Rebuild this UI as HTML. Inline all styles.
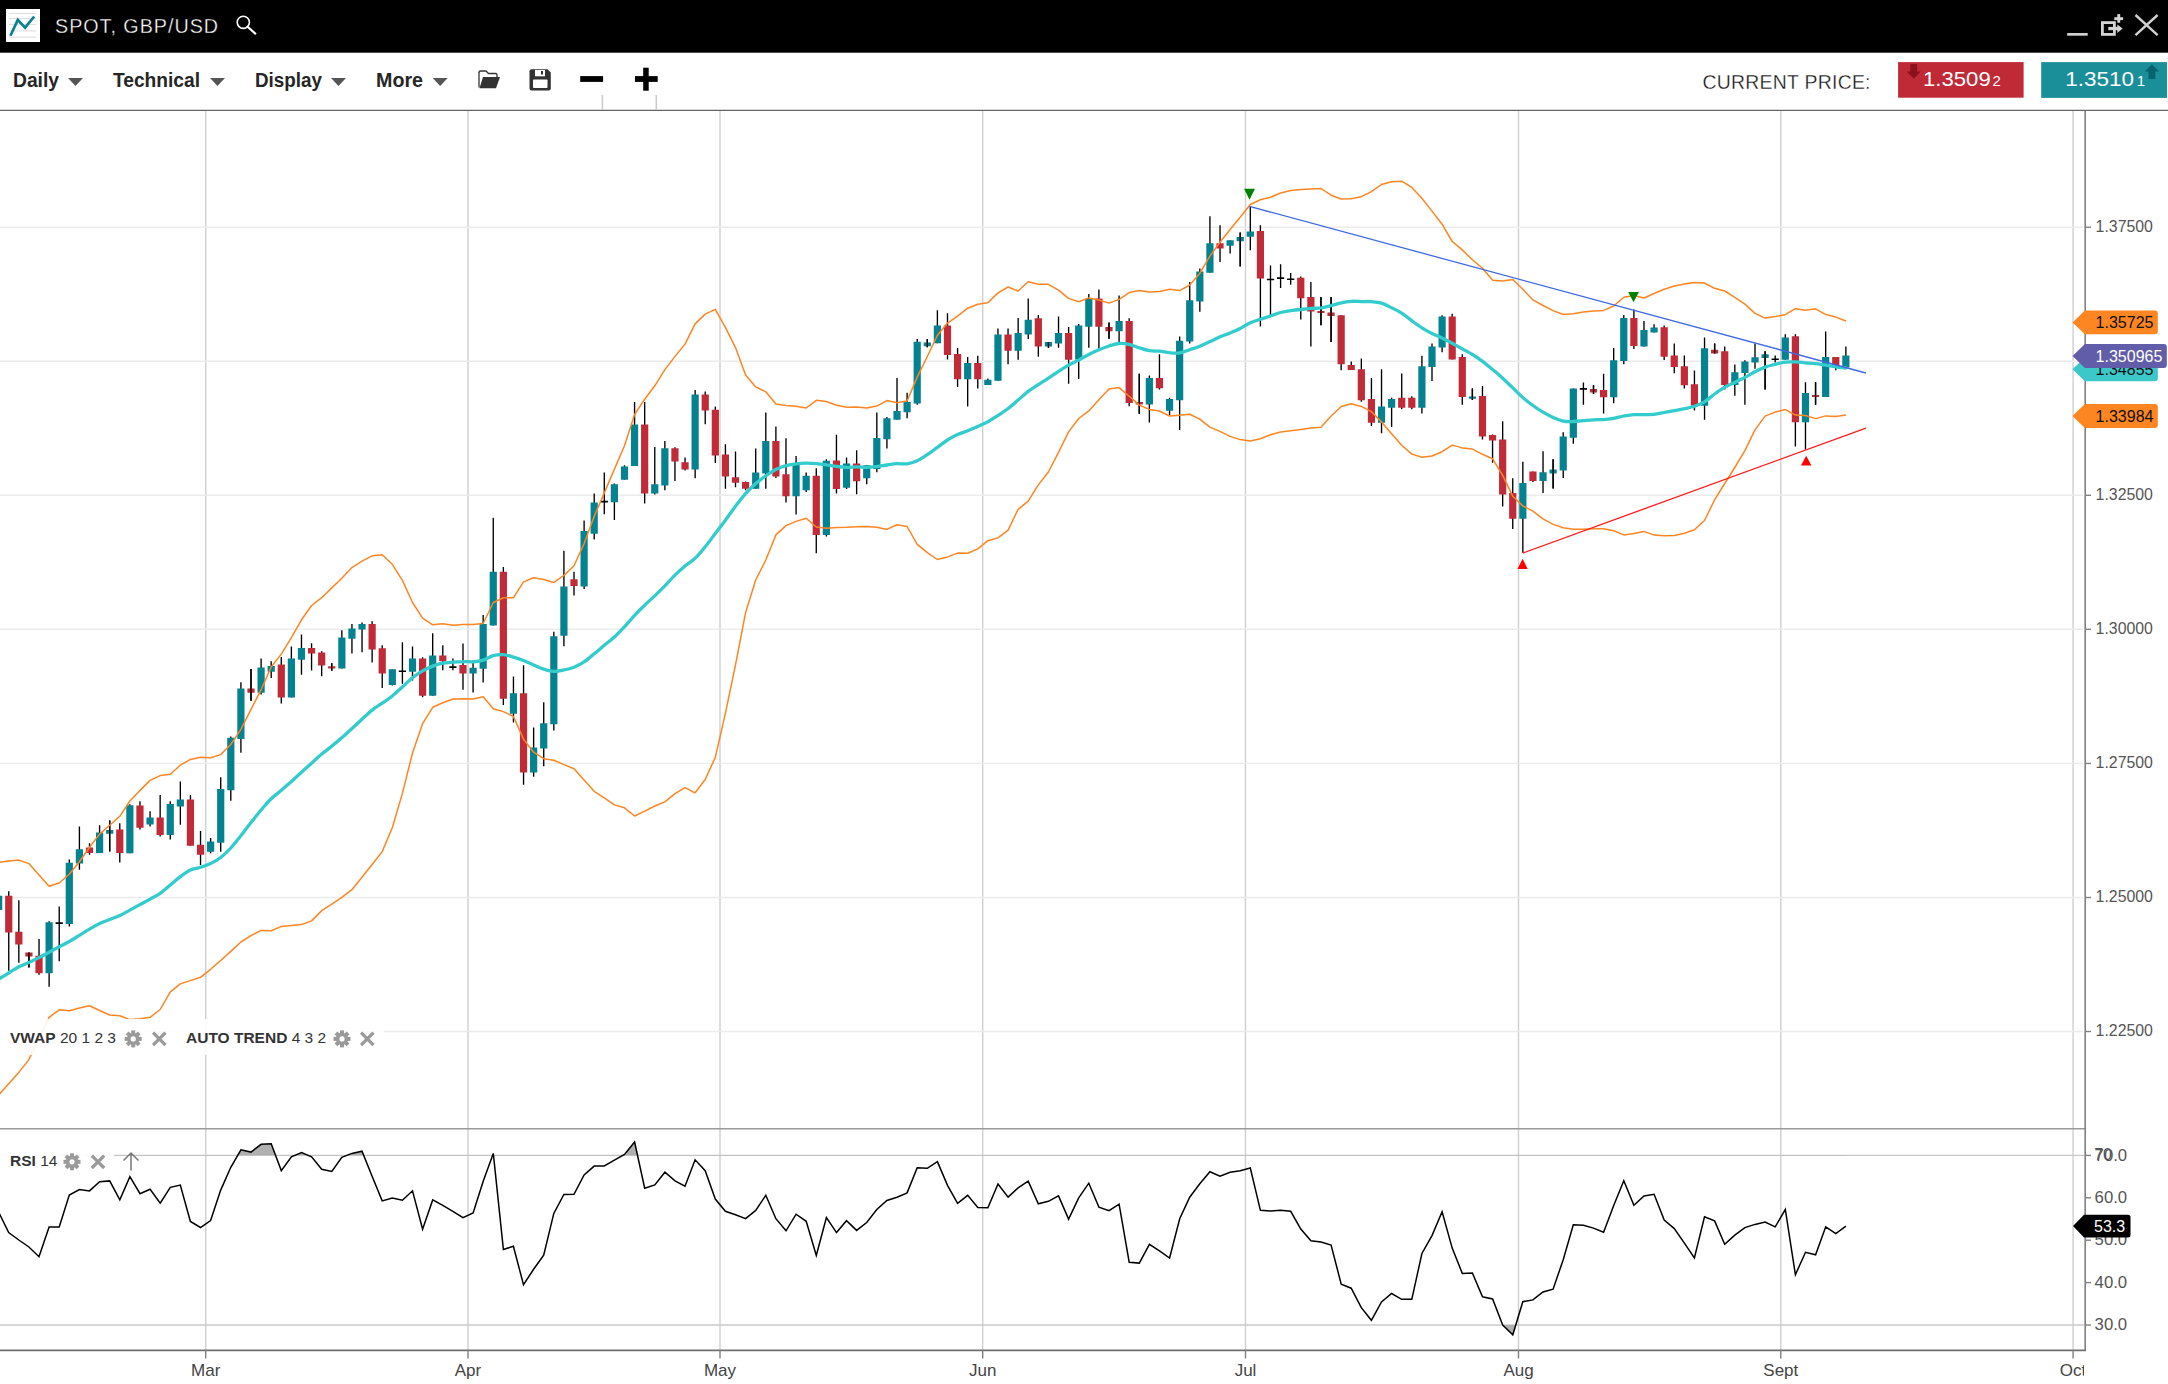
<!DOCTYPE html>
<html><head><meta charset="utf-8"><title>SPOT, GBP/USD</title>
<style>
html,body{margin:0;padding:0;background:#fff;}
body{width:2168px;height:1384px;overflow:hidden;position:relative;font-family:"Liberation Sans",Arial,sans-serif;}
svg{position:absolute;left:0;top:0;display:block}
text{font-family:"Liberation Sans",Arial,sans-serif}
</style></head><body>
<svg width="2168" height="1384" viewBox="0 0 2168 1384">
<rect x="0" y="0" width="2168" height="1384" fill="#fff"/>

<rect x="0" y="0" width="2168" height="52.7" fill="#000"/>
<rect x="6" y="9" width="34" height="33" fill="#fff"/>
<line x1="9" y1="13.4" x2="36" y2="13.4" stroke="#dcdcdc" stroke-width="1"/>
<line x1="9" y1="18.6" x2="36" y2="18.6" stroke="#dcdcdc" stroke-width="1"/>
<line x1="9" y1="24.4" x2="36" y2="24.4" stroke="#dcdcdc" stroke-width="1"/>
<line x1="9" y1="30.9" x2="36" y2="30.9" stroke="#dcdcdc" stroke-width="1"/>
<line x1="9" y1="37.1" x2="36" y2="37.1" stroke="#dcdcdc" stroke-width="1"/>
<polyline points="10.4,35.8 17.8,19.9 25.1,27.7 34.2,16.5" fill="none" stroke="#0a8290" stroke-width="2.7" stroke-linejoin="miter"/>
<text x="55" y="33" font-size="20" fill="#fff" stroke="#000" stroke-width="0.35" textLength="164" lengthAdjust="spacingAndGlyphs" letter-spacing="1">SPOT, GBP/USD</text>
<circle cx="243.3" cy="22.3" r="6.1" fill="none" stroke="#fff" stroke-width="1.6"/><line x1="247.6" y1="26.8" x2="255.3" y2="33.6" stroke="#fff" stroke-width="2.1" stroke-linecap="round"/>
<rect x="2067.2" y="33" width="20.5" height="2.7" fill="#d0d0d0"/>
<rect x="2102.4" y="22.6" width="12" height="11.8" fill="none" stroke="#d4d4d4" stroke-width="2.8"/>
<rect x="2108.3" y="26.9" width="10" height="3.3" fill="#d4d4d4"/><polygon points="2117.3,24.4 2122.7,28.6 2117.3,33" fill="#d4d4d4"/>
<rect x="2117.3" y="14.1" width="2.9" height="8.6" fill="#d4d4d4"/><rect x="2114.3" y="17.2" width="8.8" height="2.9" fill="#d4d4d4"/>
<path d="M2135.5,15 L2157.6,35.2 M2157.6,15 L2135.5,35.2" stroke="#d0d0d0" stroke-width="2.4"/>
<line x1="0" y1="110.4" x2="2168" y2="110.4" stroke="#666" stroke-width="1.2"/>
<text x="13" y="87" font-size="19.6" font-weight="bold" fill="#262626" textLength="46" lengthAdjust="spacingAndGlyphs">Daily</text>
<polygon points="68,78 83,78 75.5,86" fill="#555"/>
<text x="113" y="87" font-size="19.6" font-weight="bold" fill="#262626" textLength="87" lengthAdjust="spacingAndGlyphs">Technical</text>
<polygon points="210,78 225,78 217.5,86" fill="#555"/>
<text x="255" y="87" font-size="19.6" font-weight="bold" fill="#262626" textLength="67" lengthAdjust="spacingAndGlyphs">Display</text>
<polygon points="331,78 346,78 338.5,86" fill="#555"/>
<text x="376" y="87" font-size="19.6" font-weight="bold" fill="#262626" textLength="47" lengthAdjust="spacingAndGlyphs">More</text>
<polygon points="432.7,78 447.7,78 440.2,86" fill="#555"/>
<path d="M479,72.5 Q479,71 480.5,71 L486,71 L488.5,73.5 L495.5,73.5 Q497,73.5 497,75 L497,77" fill="none" stroke="#333" stroke-width="1.3"/><path d="M479,72 L479,87.5" stroke="#333" stroke-width="1.3"/><polygon points="483,77 500,77 496,88.3 479.5,88.3" fill="#333"/>
<path d="M531.5,69.2 L547.5,69.2 L550.8,72.5 L550.8,88.5 Q550.8,90.5 548.8,90.5 L531.5,90.5 Q529.5,90.5 529.5,88.5 L529.5,71.2 Q529.5,69.2 531.5,69.2 Z" fill="#333"/><rect x="535" y="70" width="10" height="6.3" fill="#fff"/><rect x="541" y="71" width="2" height="3.5" fill="#333"/><rect x="533" y="79.4" width="14.5" height="8.6" fill="#fff" rx="0.8"/>
<rect x="580.2" y="76.1" width="22.9" height="5.8" fill="#000"/>
<rect x="635" y="76.1" width="22.7" height="5.8" fill="#000"/><rect x="643.2" y="67.7" width="5.5" height="23" fill="#000"/>
<line x1="602.4" y1="95" x2="602.4" y2="110" stroke="#ccc" stroke-width="1.6"/><line x1="656.3" y1="95" x2="656.3" y2="110" stroke="#ccc" stroke-width="1.6"/>
<text x="1702.5" y="88.9" font-size="19.4" fill="#111" stroke="#fff" stroke-width="0.3" textLength="168" lengthAdjust="spacing">CURRENT PRICE:</text>
<rect x="1898.1" y="62.1" width="125.5" height="35.6" fill="#c02936"/>
<polygon points="1910.3,64 1917.1,64 1917.1,71.5 1920.7,71.5 1913.7,78.7 1906.6,71.5 1910.3,71.5" fill="#8c111c"/>
<text x="1923" y="86" font-size="20.8" fill="#fff" textLength="67.7" lengthAdjust="spacingAndGlyphs">1.3509</text><text x="1992.4" y="86" font-size="15" fill="#fff">2</text>
<rect x="2041.2" y="62.1" width="125.8" height="35.8" fill="#1a8e99"/>
<text x="2065.3" y="86.1" font-size="20.8" fill="#fff" textLength="68.7" lengthAdjust="spacingAndGlyphs">1.3510</text><text x="2136.8" y="86.1" font-size="15" fill="#fff">1</text>
<polygon points="2148.5,79 2155.3,79 2155.3,71.5 2159,71.5 2151.9,64.3 2144.8,71.5 2148.5,71.5" fill="#08636d"/>
<line x1="205.7" y1="111" x2="205.7" y2="1350" stroke="#cfcfcf" stroke-width="1.4"/>
<line x1="468.0" y1="111" x2="468.0" y2="1350" stroke="#cfcfcf" stroke-width="1.4"/>
<line x1="720.0" y1="111" x2="720.0" y2="1350" stroke="#cfcfcf" stroke-width="1.4"/>
<line x1="982.7" y1="111" x2="982.7" y2="1350" stroke="#cfcfcf" stroke-width="1.4"/>
<line x1="1245.5" y1="111" x2="1245.5" y2="1350" stroke="#cfcfcf" stroke-width="1.4"/>
<line x1="1518.5" y1="111" x2="1518.5" y2="1350" stroke="#cfcfcf" stroke-width="1.4"/>
<line x1="1780.8" y1="111" x2="1780.8" y2="1350" stroke="#cfcfcf" stroke-width="1.4"/>
<line x1="2073.1" y1="111" x2="2073.1" y2="1350" stroke="#cfcfcf" stroke-width="1.4"/>
<line x1="0" y1="227.2" x2="2083" y2="227.2" stroke="#ececec" stroke-width="1.4"/>
<line x1="0" y1="361.2" x2="2083" y2="361.2" stroke="#ececec" stroke-width="1.4"/>
<line x1="0" y1="495.3" x2="2083" y2="495.3" stroke="#ececec" stroke-width="1.4"/>
<line x1="0" y1="629.3" x2="2083" y2="629.3" stroke="#ececec" stroke-width="1.4"/>
<line x1="0" y1="763.4" x2="2083" y2="763.4" stroke="#ececec" stroke-width="1.4"/>
<line x1="0" y1="897.5" x2="2083" y2="897.5" stroke="#ececec" stroke-width="1.4"/>
<line x1="0" y1="1031.5" x2="2083" y2="1031.5" stroke="#ececec" stroke-width="1.4"/>
<line x1="0" y1="1155.4" x2="2085" y2="1155.4" stroke="#c8c8c8" stroke-width="1.3"/>
<line x1="0" y1="1325" x2="2085" y2="1325" stroke="#c8c8c8" stroke-width="1.3"/>
<line x1="0" y1="1128.8" x2="2085" y2="1128.8" stroke="#999" stroke-width="1.6"/>
<defs><clipPath id="cm"><rect x="0" y="111" width="2084" height="1017"/></clipPath><clipPath id="cr"><rect x="0" y="1129" width="2084" height="220"/></clipPath><clipPath id="ob"><rect x="0" y="1129" width="2084" height="26.4"/></clipPath><clipPath id="os"><rect x="0" y="1325" width="2084" height="25"/></clipPath><clipPath id="ax"><rect x="0" y="1350" width="2084" height="40"/></clipPath></defs>
<g clip-path="url(#cm)">
<path d="M-1.35,890.0V915.0 M8.75,891.3V970.8 M18.84,900.3V962.8 M28.93,952.5V967.6 M39.03,939.0V974.8 M49.12,921.2V986.7 M59.22,906.4V961.2 M69.31,859.5V926.6 M79.41,826.6V869.8 M89.50,843.3V854.7 M99.59,825.3V853.1 M109.69,820.5V851.5 M119.78,823.2V862.4 M129.87,804.2V853.3 M139.97,801.2V829.5 M150.06,811.3V826.5 M160.16,795.1V836.6 M170.25,801.2V839.6 M180.34,781.5V824.8 M190.44,795.1V845.7 M200.53,831.0V864.9 M210.63,838.1V853.3 M220.72,777.2V851.8 M230.81,736.4V800.7 M240.91,682.2V752.7 M251.00,668.9V700.7 M261.10,658.4V694.5 M271.19,661.3V677.9 M281.29,656.9V703.6 M291.38,646.4V697.4 M301.47,634.6V674.7 M311.57,643.2V670.4 M321.66,651.2V676.2 M331.75,663.2V670.7 M341.85,630.2V668.5 M351.94,624.1V653.4 M362.04,622.6V652.3 M372.13,621.2V662.6 M382.23,645.3V688.0 M392.32,669.2V685.5 M402.41,642.2V683.7 M412.51,646.5V680.4 M422.60,657.3V697.3 M432.69,633.3V695.8 M442.79,645.3V670.3 M452.88,658.6V670.3 M462.98,643.4V689.8 M473.07,660.4V692.5 M483.16,614.9V682.4 M493.26,517.8V625.4 M503.35,567.1V705.0 M513.45,676.5V722.6 M523.54,665.2V784.7 M533.63,727.5V776.7 M543.73,702.3V766.2 M553.82,631.7V730.6 M563.92,550.7V646.3 M574.01,571.7V595.4 M584.11,520.5V589.1 M594.20,493.4V539.6 M604.29,472.6V514.2 M614.39,483.4V520.1 M624.48,465.2V479.8 M634.57,402.1V466.1 M644.67,402.1V503.5 M654.76,447.0V494.4 M664.86,441.1V490.2 M674.95,447.3V481.1 M685.04,457.4V470.4 M695.14,390.1V478.2 M705.23,391.4V424.2 M715.33,406.4V463.0 M725.42,444.2V488.8 M735.51,451.5V487.3 M745.61,481.5V490.2 M755.70,448.6V488.8 M765.80,412.5V488.8 M775.89,426.4V478.1 M785.99,438.2V502.4 M796.08,456.1V514.5 M806.17,472.6V492.0 M816.27,468.2V553.2 M826.36,459.2V536.5 M836.45,434.7V493.4 M846.55,457.5V488.9 M856.64,450.2V494.2 M866.74,465.3V484.3 M876.83,412.6V472.2 M886.92,417.1V448.4 M897.02,378.1V419.8 M907.11,392.8V418.3 M917.21,339.1V404.7 M927.30,339.1V347.3 M937.39,310.3V343.2 M947.49,313.3V359.5 M957.58,348.1V386.9 M967.68,357.0V406.4 M977.77,355.7V388.4 M987.87,378.4V385.1 M997.96,328.5V380.8 M1008.05,328.5V364.3 M1018.15,317.9V359.8 M1028.24,298.4V338.9 M1038.34,315.0V356.7 M1048.43,342.1V347.8 M1058.52,316.4V347.8 M1068.62,326.9V383.8 M1078.71,324.1V379.1 M1088.81,294.0V347.7 M1098.90,289.4V349.3 M1108.99,322.6V338.8 M1119.09,295.6V341.9 M1129.18,318.2V406.2 M1139.27,373.8V413.8 M1149.37,375.4V422.6 M1159.46,354.2V389.4 M1169.56,397.8V415.0 M1179.65,336.4V430.0 M1189.74,282.0V343.4 M1199.84,268.5V311.7 M1209.93,216.2V272.8 M1220.03,225.2V262.1 M1230.12,240.2V253.5 M1240.21,232.6V266.6 M1250.31,206.4V250.3 M1260.40,225.2V326.5 M1270.50,265.4V314.9 M1280.59,264.2V287.9 M1290.68,273.1V284.7 M1300.78,276.5V319.5 M1310.87,282.1V346.5 M1320.97,297.1V325.3 M1331.06,297.1V341.9 M1341.15,315.3V370.2 M1351.25,361.5V370.0 M1361.34,358.4V401.7 M1371.44,378.1V426.0 M1381.53,369.3V433.2 M1391.62,397.7V427.1 M1401.72,373.5V409.3 M1411.81,396.2V409.3 M1421.91,355.8V413.6 M1432.00,343.5V380.9 M1442.10,315.2V352.2 M1452.19,313.7V359.6 M1462.28,354.2V404.7 M1472.38,388.6V400.1 M1482.47,385.9V439.5 M1492.56,434.5V462.8 M1502.66,421.3V506.6 M1512.75,478.3V528.9 M1522.85,461.7V552.7 M1532.94,471.5V482.0 M1543.03,451.2V493.1 M1553.13,459.3V488.5 M1563.22,432.3V477.9 M1573.32,388.4V443.7 M1583.41,382.5V404.8 M1593.50,385.2V394.1 M1603.60,373.8V413.5 M1613.69,348.0V403.2 M1623.79,315.0V364.2 M1633.88,309.4V349.1 M1643.97,321.0V346.4 M1654.07,324.2V332.4 M1664.16,325.6V359.9 M1674.26,343.4V373.3 M1684.35,355.5V388.5 M1694.44,370.5V410.6 M1704.54,337.6V419.7 M1714.63,343.4V353.5 M1724.73,346.4V389.6 M1734.82,364.5V395.7 M1744.91,360.3V404.7 M1755.01,343.4V368.8 M1765.10,351.2V389.6 M1775.20,355.5V362.5 M1785.29,334.3V359.7 M1795.38,334.3V446.6 M1805.48,382.2V449.6 M1815.57,382.2V404.7 M1825.67,331.4V396.9 M1835.76,357.1V370.3 M1845.86,346.4V367.5" stroke="#000" stroke-width="1.35" fill="none"/>
<path d="M55.62,923.1H62.82 M398.81,671.3H406.01 M449.28,667.1H456.48 M600.69,501.6H607.89 M1266.90,279.5H1274.10 M1276.99,278.1H1284.19 M1287.09,279.3H1294.28 M1579.81,388.9H1587.01 M1771.60,359.3H1778.80" stroke="#000" stroke-width="1.6" fill="none"/>
<path d="M-4.95,895.7h7.2v14.3h-7.2z M45.52,922.3h7.2v50.9h-7.2z M65.71,862.7h7.2v61.2h-7.2z M75.81,849.2h7.2v14.3h-7.2z M95.99,832.5h7.2v20.6h-7.2z M106.09,830.1h7.2v3.6h-7.2z M126.27,805.3h7.2v48.0h-7.2z M146.46,817.4h7.2v7.1h-7.2z M166.65,803.9h7.2v31.2h-7.2z M176.74,799.5h7.2v7.1h-7.2z M207.03,841.5h7.2v10.3h-7.2z M217.12,789.1h7.2v53.6h-7.2z M227.21,737.8h7.2v52.5h-7.2z M237.31,688.4h7.2v50.6h-7.2z M257.50,667.5h7.2v25.3h-7.2z M267.59,666.0h7.2v5.8h-7.2z M287.78,658.4h7.2v39.0h-7.2z M297.87,648.0h7.2v11.8h-7.2z M338.25,637.4h7.2v31.1h-7.2z M348.34,628.6h7.2v10.2h-7.2z M358.44,624.1h7.2v5.4h-7.2z M388.72,669.2h7.2v15.9h-7.2z M408.91,658.4h7.2v13.4h-7.2z M429.09,655.4h7.2v40.4h-7.2z M469.47,667.7h7.2v5.9h-7.2z M479.56,624.1h7.2v44.7h-7.2z M489.66,571.7h7.2v53.7h-7.2z M509.85,693.3h7.2v20.5h-7.2z M530.03,747.4h7.2v25.1h-7.2z M540.13,723.3h7.2v25.1h-7.2z M550.22,636.3h7.2v88.0h-7.2z M560.32,586.4h7.2v49.4h-7.2z M580.50,531.0h7.2v55.4h-7.2z M590.60,502.5h7.2v31.2h-7.2z M610.79,484.3h7.2v17.9h-7.2z M620.88,466.5h7.2v13.3h-7.2z M630.97,424.5h7.2v41.6h-7.2z M651.16,484.3h7.2v9.1h-7.2z M661.26,448.3h7.2v37.3h-7.2z M691.54,394.6h7.2v74.8h-7.2z M752.10,472.6h7.2v16.2h-7.2z M762.20,441.1h7.2v32.3h-7.2z M792.48,464.8h7.2v31.4h-7.2z M802.57,475.8h7.2v14.4h-7.2z M822.76,460.7h7.2v74.4h-7.2z M842.95,463.5h7.2v24.3h-7.2z M863.14,465.3h7.2v12.9h-7.2z M873.23,438.0h7.2v31.1h-7.2z M883.32,418.3h7.2v21.0h-7.2z M893.42,411.0h7.2v8.8h-7.2z M903.51,401.9h7.2v10.4h-7.2z M913.61,341.7h7.2v61.8h-7.2z M923.70,342.5h7.2v3.8h-7.2z M933.79,325.5h7.2v17.7h-7.2z M964.08,363.0h7.2v16.3h-7.2z M984.26,379.7h7.2v5.4h-7.2z M994.36,334.5h7.2v46.3h-7.2z M1014.55,332.9h7.2v17.9h-7.2z M1024.64,319.7h7.2v14.8h-7.2z M1044.83,342.1h7.2v4.3h-7.2z M1054.92,333.1h7.2v10.4h-7.2z M1075.11,325.5h7.2v34.0h-7.2z M1085.21,298.5h7.2v28.3h-7.2z M1115.49,321.0h7.2v10.2h-7.2z M1145.77,378.1h7.2v26.5h-7.2z M1165.96,399.0h7.2v11.7h-7.2z M1176.05,340.7h7.2v59.6h-7.2z M1186.14,300.2h7.2v41.4h-7.2z M1196.24,271.5h7.2v29.9h-7.2z M1206.33,243.3h7.2v29.5h-7.2z M1226.52,240.2h7.2v5.5h-7.2z M1236.62,237.1h7.2v4.1h-7.2z M1246.71,231.4h7.2v5.4h-7.2z M1377.93,406.6h7.2v16.2h-7.2z M1388.03,399.1h7.2v8.7h-7.2z M1418.31,366.2h7.2v41.6h-7.2z M1428.40,346.5h7.2v20.6h-7.2z M1438.50,316.6h7.2v30.9h-7.2z M1468.78,396.6h7.2v2.1h-7.2z M1519.25,483.0h7.2v35.8h-7.2z M1539.43,472.3h7.2v8.7h-7.2z M1549.53,469.4h7.2v4.2h-7.2z M1559.62,436.5h7.2v33.9h-7.2z M1569.72,388.4h7.2v49.3h-7.2z M1610.09,360.3h7.2v37.0h-7.2z M1620.19,318.1h7.2v43.0h-7.2z M1640.38,330.1h7.2v16.3h-7.2z M1650.47,327.4h7.2v5.0h-7.2z M1700.94,348.2h7.2v57.6h-7.2z M1731.22,372.3h7.2v12.7h-7.2z M1741.32,361.6h7.2v11.3h-7.2z M1751.41,357.3h7.2v5.2h-7.2z M1761.50,354.2h7.2v3.7h-7.2z M1781.69,337.5h7.2v22.2h-7.2z M1801.88,393.0h7.2v29.3h-7.2z M1822.07,357.1h7.2v39.8h-7.2z M1842.26,355.6h7.2v11.9h-7.2z" fill="#04828f"/>
<path d="M5.15,895.7h7.2v36.9h-7.2z M15.24,931.8h7.2v12.7h-7.2z M25.33,952.5h7.2v4.0h-7.2z M35.43,955.7h7.2v17.5h-7.2z M85.90,847.6h7.2v5.5h-7.2z M116.18,829.6h7.2v23.5h-7.2z M136.37,805.6h7.2v22.2h-7.2z M156.56,817.4h7.2v17.7h-7.2z M186.84,799.5h7.2v46.2h-7.2z M196.93,844.7h7.2v10.1h-7.2z M247.40,688.4h7.2v4.4h-7.2z M277.69,664.6h7.2v32.8h-7.2z M307.97,648.0h7.2v5.6h-7.2z M318.06,652.6h7.2v13.0h-7.2z M328.15,666.3h7.2v2.2h-7.2z M368.53,624.1h7.2v25.3h-7.2z M378.62,648.2h7.2v25.2h-7.2z M419.00,658.6h7.2v37.2h-7.2z M439.19,655.4h7.2v5.8h-7.2z M459.38,665.1h7.2v8.3h-7.2z M499.75,571.7h7.2v127.0h-7.2z M519.94,693.3h7.2v79.2h-7.2z M570.41,579.2h7.2v6.8h-7.2z M641.07,424.5h7.2v68.9h-7.2z M671.35,448.3h7.2v13.3h-7.2z M681.44,462.2h7.2v7.2h-7.2z M701.63,394.6h7.2v16.0h-7.2z M711.73,409.8h7.2v45.7h-7.2z M721.82,454.6h7.2v22.0h-7.2z M731.91,477.3h7.2v5.4h-7.2z M742.01,481.9h7.2v6.9h-7.2z M772.29,441.1h7.2v35.5h-7.2z M782.38,474.3h7.2v21.9h-7.2z M812.67,475.8h7.2v59.3h-7.2z M832.85,460.5h7.2v28.4h-7.2z M853.04,463.5h7.2v17.8h-7.2z M943.89,325.5h7.2v29.4h-7.2z M953.98,354.0h7.2v25.3h-7.2z M974.17,363.0h7.2v16.3h-7.2z M1004.45,334.5h7.2v16.3h-7.2z M1034.74,318.2h7.2v28.2h-7.2z M1065.02,333.1h7.2v26.7h-7.2z M1095.30,298.5h7.2v28.3h-7.2z M1105.39,327.1h7.2v4.1h-7.2z M1125.58,321.0h7.2v82.0h-7.2z M1135.67,402.1h7.2v2.5h-7.2z M1155.86,378.1h7.2v10.1h-7.2z M1216.43,243.3h7.2v5.3h-7.2z M1256.80,231.0h7.2v47.5h-7.2z M1297.18,277.7h7.2v20.5h-7.2z M1307.27,297.1h7.2v14.4h-7.2z M1317.37,311.0h7.2v2.0h-7.2z M1327.46,312.4h7.2v3.7h-7.2z M1337.56,315.3h7.2v48.9h-7.2z M1347.65,365.0h7.2v5.0h-7.2z M1357.74,369.3h7.2v31.0h-7.2z M1367.84,399.1h7.2v23.7h-7.2z M1398.12,397.7h7.2v10.1h-7.2z M1408.21,397.7h7.2v10.1h-7.2z M1448.59,316.6h7.2v43.0h-7.2z M1458.68,357.0h7.2v40.0h-7.2z M1478.87,396.0h7.2v40.5h-7.2z M1488.96,435.1h7.2v5.4h-7.2z M1499.06,439.5h7.2v55.0h-7.2z M1509.15,493.1h7.2v25.7h-7.2z M1529.34,471.5h7.2v9.5h-7.2z M1589.90,388.9h7.2v3.6h-7.2z M1600.00,390.0h7.2v7.3h-7.2z M1630.28,318.1h7.2v27.9h-7.2z M1660.56,327.2h7.2v29.6h-7.2z M1670.66,355.5h7.2v11.6h-7.2z M1680.75,366.2h7.2v19.1h-7.2z M1690.85,384.2h7.2v21.2h-7.2z M1711.03,349.7h7.2v3.8h-7.2z M1721.13,351.2h7.2v33.8h-7.2z M1791.79,336.3h7.2v86.0h-7.2z M1811.97,394.9h7.2v2.0h-7.2z M1832.16,357.1h7.2v9.3h-7.2z" fill="#c12b38"/>
<path d="M28.93,952.5V967.6 M109.69,820.5V851.5 M251.00,668.9V700.7 M331.75,663.2V670.7 M927.30,339.1V347.3 M1048.43,342.1V347.8 M1108.99,322.6V338.8 M1139.27,373.8V413.8 M1240.21,232.6V266.6 M1320.97,297.1V325.3 M1331.06,297.1V341.9 M1472.38,388.6V400.1 M1553.13,459.3V488.5 M1593.50,385.2V394.1 M1714.63,343.4V353.5 M1765.10,351.2V389.6 M1815.57,382.2V404.7" stroke="#000" stroke-width="1.35" fill="none"/>
<polyline points="-1.3,862.5 8.7,861.0 18.8,860.1 28.9,863.6 39.0,874.9 49.1,886.3 59.2,883.0 69.3,874.2 79.4,861.7 89.5,847.2 99.6,834.1 109.7,825.2 119.8,816.3 129.9,801.0 140.0,790.4 150.1,780.4 160.2,775.6 170.3,774.3 180.3,765.2 190.4,759.4 200.5,757.3 210.6,757.7 220.7,754.6 230.8,744.5 240.9,729.4 251.0,709.4 261.1,689.7 271.2,666.9 281.3,654.1 291.4,637.6 301.5,619.8 311.6,605.5 321.7,597.7 331.8,587.9 341.8,578.2 351.9,567.6 362.0,561.2 372.1,555.8 382.2,554.8 392.3,564.3 402.4,580.4 412.5,602.5 422.6,618.1 432.7,624.8 442.8,623.7 452.9,625.2 463.0,624.4 473.1,624.5 483.2,623.5 493.3,602.5 503.4,597.8 513.4,597.8 523.5,581.9 533.6,577.7 543.7,579.5 553.8,582.5 563.9,575.4 574.0,565.7 584.1,543.6 594.2,516.4 604.3,492.9 614.4,469.1 624.5,445.7 634.6,414.5 644.7,399.2 654.8,385.8 664.9,369.6 675.0,356.4 685.0,344.1 695.1,323.9 705.2,314.1 715.3,309.4 725.4,327.3 735.5,347.6 745.6,374.9 755.7,386.9 765.8,391.8 775.9,404.1 786.0,405.6 796.1,406.3 806.2,408.0 816.3,400.3 826.4,401.5 836.5,405.3 846.5,407.3 856.6,407.1 866.7,408.1 876.8,406.1 886.9,400.6 897.0,402.7 907.1,401.0 917.2,377.1 927.3,356.5 937.4,335.2 947.5,323.1 957.6,316.1 967.7,308.2 977.8,304.2 987.9,302.8 998.0,292.9 1008.1,287.0 1018.1,291.0 1028.2,281.7 1038.3,284.3 1048.4,284.3 1058.5,290.2 1068.6,298.4 1078.7,301.7 1088.8,297.9 1098.9,300.0 1109.0,303.1 1119.1,299.4 1129.2,292.6 1139.3,290.6 1149.4,292.0 1159.5,291.5 1169.6,289.3 1179.7,290.6 1189.7,285.0 1199.8,273.4 1209.9,256.1 1220.0,242.3 1230.1,229.5 1240.2,217.3 1250.3,204.5 1260.4,199.8 1270.5,197.3 1280.6,193.0 1290.7,190.4 1300.8,189.5 1310.9,188.9 1321.0,188.5 1331.1,195.2 1341.2,199.0 1351.2,198.8 1361.3,196.7 1371.4,191.6 1381.5,184.5 1391.6,181.7 1401.7,181.2 1411.8,187.4 1421.9,198.2 1432.0,211.1 1442.1,224.2 1452.2,241.5 1462.3,249.9 1472.4,259.8 1482.5,268.3 1492.6,280.3 1502.7,281.0 1512.8,279.5 1522.8,289.2 1532.9,299.9 1543.0,305.5 1553.1,310.6 1563.2,314.5 1573.3,313.7 1583.4,312.1 1593.5,310.9 1603.6,310.4 1613.7,306.0 1623.8,297.2 1633.9,295.6 1644.0,298.0 1654.1,293.5 1664.2,289.2 1674.3,286.0 1684.4,284.1 1694.4,282.5 1704.5,283.0 1714.6,288.3 1724.7,291.0 1734.8,297.3 1744.9,304.1 1755.0,313.4 1765.1,318.1 1775.2,316.6 1785.3,314.7 1795.4,308.7 1805.5,310.2 1815.6,308.8 1825.7,314.6 1835.8,317.1 1845.9,321.0" fill="none" stroke="#fd8522" stroke-width="1.5" stroke-linejoin="round"/>
<polyline points="-1.3,1095.2 8.7,1083.7 18.8,1072.4 28.9,1059.6 39.0,1038.1 49.1,1017.4 59.2,1009.8 69.3,1010.7 79.4,1008.1 89.5,1005.7 99.6,1010.5 109.7,1015.0 119.8,1015.8 129.9,1019.6 140.0,1018.8 150.1,1017.3 160.2,1009.5 170.3,991.8 180.3,983.9 190.4,980.6 200.5,977.3 210.6,969.3 220.7,960.5 230.8,951.4 240.9,942.0 251.0,935.7 261.1,930.4 271.2,930.8 281.3,926.4 291.4,925.4 301.5,924.6 311.6,920.9 321.7,910.6 331.8,904.2 341.8,897.4 351.9,889.7 362.0,877.2 372.1,864.5 382.2,851.6 392.3,827.7 402.4,793.4 412.5,753.0 422.6,723.7 432.7,707.3 442.8,702.7 452.9,699.0 463.0,698.8 473.1,699.1 483.2,696.8 493.3,708.8 503.4,711.6 513.4,716.4 523.5,739.1 533.6,752.2 543.7,758.7 553.8,760.2 563.9,764.6 574.0,768.7 584.1,780.1 594.2,791.3 604.3,797.8 614.4,804.9 624.5,807.8 634.6,816.0 644.7,811.1 654.8,806.0 664.9,801.9 675.0,793.7 685.0,787.7 695.1,792.8 705.2,779.5 715.3,757.4 725.4,713.3 735.5,664.9 745.6,612.6 755.7,580.0 765.8,560.0 775.9,534.9 786.0,525.6 796.1,521.4 806.2,518.2 816.3,527.0 826.4,528.3 836.5,527.4 846.5,527.3 856.6,526.7 866.7,526.4 876.8,527.3 886.9,529.4 897.0,524.7 907.1,526.5 917.2,544.3 927.3,552.6 937.4,559.5 947.5,556.9 957.6,553.1 967.7,553.2 977.8,548.9 987.9,540.7 998.0,537.9 1008.1,530.1 1018.1,509.3 1028.2,501.1 1038.3,484.9 1048.4,472.0 1058.5,452.3 1068.6,431.9 1078.7,418.5 1088.8,410.9 1098.9,399.7 1109.0,389.0 1119.1,387.6 1129.2,396.3 1139.3,405.1 1149.4,409.4 1159.5,411.0 1169.6,416.0 1179.7,415.2 1189.7,414.3 1199.8,419.1 1209.9,427.1 1220.0,431.4 1230.1,436.4 1240.2,439.6 1250.3,441.1 1260.4,438.8 1270.5,434.7 1280.6,432.0 1290.7,430.8 1300.8,429.4 1310.9,427.9 1321.0,427.2 1331.1,416.0 1341.2,406.5 1351.2,403.8 1361.3,406.4 1371.4,411.6 1381.5,421.9 1391.6,433.7 1401.7,445.2 1411.8,454.1 1421.9,457.3 1432.0,456.0 1442.1,451.7 1452.2,445.1 1462.3,447.9 1472.4,449.1 1482.5,454.3 1492.6,458.8 1502.7,475.3 1512.8,496.3 1522.8,505.9 1532.9,511.2 1543.0,518.9 1553.1,524.4 1563.2,527.7 1573.3,529.3 1583.4,529.2 1593.5,528.7 1603.6,528.8 1613.7,530.7 1623.8,534.9 1633.9,533.5 1644.0,531.4 1654.1,535.1 1664.2,535.8 1674.3,535.5 1684.4,533.3 1694.4,529.8 1704.5,520.5 1714.6,499.8 1724.7,483.5 1734.8,467.5 1744.9,450.7 1755.0,429.9 1765.1,416.1 1775.2,412.1 1785.3,409.6 1795.4,415.1 1805.5,415.5 1815.6,418.6 1825.7,415.9 1835.8,416.6 1845.9,415.0" fill="none" stroke="#fd8522" stroke-width="1.5" stroke-linejoin="round"/>
<path d="M-1.3,979.1C0.3,978.1 5.4,975.0 8.7,973.0C12.1,970.9 15.5,968.6 18.8,966.8C22.2,965.1 25.6,964.0 28.9,962.5C32.3,960.9 35.7,959.3 39.0,957.6C42.4,955.9 45.8,954.0 49.1,952.2C52.5,950.4 55.9,948.6 59.2,946.8C62.6,945.1 65.9,943.4 69.3,941.5C72.7,939.6 76.0,937.4 79.4,935.4C82.8,933.3 86.1,931.2 89.5,929.2C92.9,927.3 96.2,925.0 99.6,923.4C103.0,921.8 106.3,920.8 109.7,919.5C113.1,918.2 116.4,917.2 119.8,915.6C123.1,914.0 126.5,911.9 129.9,910.1C133.2,908.3 136.6,906.4 140.0,904.6C143.3,902.8 146.7,901.0 150.1,899.1C153.4,897.2 156.8,895.7 160.2,893.3C163.5,891.0 166.9,887.7 170.3,884.9C173.6,882.2 177.0,879.1 180.3,876.6C183.7,874.1 187.1,871.6 190.4,870.0C193.8,868.5 197.2,868.4 200.5,867.3C203.9,866.2 207.3,865.1 210.6,863.5C214.0,861.9 217.4,860.1 220.7,857.5C224.1,854.9 227.5,851.6 230.8,848.0C234.2,844.3 237.5,839.9 240.9,835.7C244.3,831.5 247.6,826.8 251.0,822.5C254.4,818.3 257.7,814.0 261.1,810.0C264.5,806.1 267.8,802.1 271.2,798.8C274.6,795.5 277.9,793.1 281.3,790.3C284.6,787.4 288.0,784.5 291.4,781.5C294.7,778.5 298.1,775.2 301.5,772.2C304.8,769.1 308.2,766.2 311.6,763.2C314.9,760.2 318.3,757.0 321.7,754.1C325.0,751.3 328.4,748.8 331.8,746.1C335.1,743.3 338.5,740.7 341.8,737.8C345.2,734.9 348.6,731.7 351.9,728.6C355.3,725.5 358.7,722.3 362.0,719.2C365.4,716.1 368.8,712.8 372.1,710.1C375.5,707.5 378.9,705.5 382.2,703.2C385.6,700.8 389.0,698.7 392.3,696.0C395.7,693.2 399.0,689.9 402.4,686.9C405.8,683.8 409.1,680.5 412.5,677.8C415.9,675.1 419.2,672.8 422.6,670.9C426.0,668.9 429.3,667.4 432.7,666.1C436.1,664.8 439.4,663.9 442.8,663.2C446.2,662.5 449.5,662.4 452.9,662.1C456.2,661.8 459.6,661.6 463.0,661.6C466.3,661.5 469.7,662.0 473.1,661.8C476.4,661.6 479.8,661.2 483.2,660.1C486.5,659.1 489.9,656.6 493.3,655.7C496.6,654.8 500.0,654.5 503.4,654.7C506.7,655.0 510.1,656.1 513.4,657.1C516.8,658.1 520.2,659.2 523.5,660.5C526.9,661.8 530.3,663.5 533.6,664.9C537.0,666.4 540.4,668.1 543.7,669.1C547.1,670.2 550.5,671.2 553.8,671.3C557.2,671.5 560.6,670.7 563.9,670.0C567.3,669.3 570.6,668.5 574.0,667.2C577.4,665.8 580.7,664.0 584.1,661.8C587.5,659.6 590.8,656.6 594.2,653.8C597.6,651.1 600.9,648.1 604.3,645.3C607.7,642.5 611.0,640.1 614.4,637.0C617.8,633.9 621.1,630.4 624.5,626.8C627.8,623.2 631.2,618.9 634.6,615.3C637.9,611.7 641.3,608.4 644.7,605.2C648.0,601.9 651.4,599.1 654.8,595.9C658.1,592.6 661.5,589.2 664.9,585.8C668.2,582.3 671.6,578.4 675.0,575.1C678.3,571.8 681.7,568.7 685.0,565.9C688.4,563.2 691.8,561.5 695.1,558.3C698.5,555.2 701.9,551.0 705.2,546.8C708.6,542.7 712.0,537.8 715.3,533.4C718.7,529.0 722.1,524.8 725.4,520.3C728.8,515.7 732.2,510.6 735.5,506.2C738.9,501.8 742.2,497.5 745.6,493.7C749.0,489.9 752.3,486.4 755.7,483.4C759.1,480.5 762.4,478.2 765.8,475.9C769.2,473.6 772.5,471.2 775.9,469.5C779.3,467.8 782.6,466.5 786.0,465.6C789.3,464.6 792.7,464.3 796.1,463.9C799.4,463.4 802.8,463.1 806.2,463.1C809.5,463.1 812.9,463.3 816.3,463.6C819.6,463.9 823.0,464.4 826.4,464.9C829.7,465.3 833.1,466.0 836.5,466.4C839.8,466.8 843.2,467.2 846.5,467.3C849.9,467.4 853.3,466.9 856.6,466.9C860.0,466.9 863.4,467.3 866.7,467.3C870.1,467.2 873.5,467.1 876.8,466.7C880.2,466.3 883.6,465.5 886.9,465.0C890.3,464.5 893.7,463.9 897.0,463.7C900.4,463.5 903.7,464.3 907.1,463.8C910.5,463.3 913.8,462.2 917.2,460.7C920.6,459.2 923.9,456.8 927.3,454.6C930.7,452.4 934.0,449.8 937.4,447.4C940.8,444.9 944.1,442.1 947.5,440.0C950.9,437.9 954.2,436.2 957.6,434.6C960.9,433.1 964.3,432.1 967.7,430.7C971.0,429.4 974.4,428.0 977.8,426.5C981.1,425.0 984.5,423.6 987.9,421.8C991.2,419.9 994.6,417.6 998.0,415.4C1001.3,413.2 1004.7,411.1 1008.1,408.5C1011.4,406.0 1014.8,403.0 1018.1,400.1C1021.5,397.3 1024.9,394.0 1028.2,391.4C1031.6,388.8 1035.0,386.8 1038.3,384.6C1041.7,382.4 1045.1,380.3 1048.4,378.1C1051.8,375.9 1055.2,373.4 1058.5,371.3C1061.9,369.1 1065.3,367.0 1068.6,365.1C1072.0,363.3 1075.3,361.9 1078.7,360.1C1082.1,358.3 1085.4,356.1 1088.8,354.4C1092.2,352.7 1095.5,351.2 1098.9,349.8C1102.3,348.4 1105.6,347.1 1109.0,346.0C1112.4,345.0 1115.7,343.8 1119.1,343.5C1122.5,343.3 1125.8,343.7 1129.2,344.4C1132.5,345.2 1135.9,346.8 1139.3,347.8C1142.6,348.9 1146.0,350.1 1149.4,350.7C1152.7,351.3 1156.1,350.9 1159.5,351.2C1162.8,351.5 1166.2,352.4 1169.6,352.7C1172.9,353.0 1176.3,353.4 1179.7,352.9C1183.0,352.4 1186.4,350.8 1189.7,349.7C1193.1,348.6 1196.5,347.6 1199.8,346.3C1203.2,344.9 1206.6,343.2 1209.9,341.6C1213.3,340.0 1216.7,338.3 1220.0,336.8C1223.4,335.4 1226.8,334.3 1230.1,332.9C1233.5,331.5 1236.9,330.1 1240.2,328.5C1243.6,326.8 1246.9,324.3 1250.3,322.8C1253.7,321.3 1257.0,320.4 1260.4,319.3C1263.8,318.2 1267.1,317.1 1270.5,316.0C1273.9,314.9 1277.2,313.4 1280.6,312.5C1284.0,311.6 1287.3,311.1 1290.7,310.6C1294.0,310.1 1297.4,309.8 1300.8,309.5C1304.1,309.1 1307.5,308.7 1310.9,308.4C1314.2,308.2 1317.6,308.3 1321.0,307.9C1324.3,307.4 1327.7,306.5 1331.1,305.6C1334.4,304.8 1337.8,303.5 1341.2,302.8C1344.5,302.0 1347.9,301.5 1351.2,301.3C1354.6,301.1 1358.0,301.5 1361.3,301.6C1364.7,301.6 1368.1,301.4 1371.4,301.6C1374.8,301.9 1378.2,302.2 1381.5,303.2C1384.9,304.2 1388.3,306.1 1391.6,307.7C1395.0,309.4 1398.4,311.0 1401.7,313.2C1405.1,315.3 1408.4,318.3 1411.8,320.7C1415.2,323.2 1418.5,325.7 1421.9,327.8C1425.3,329.9 1428.6,331.8 1432.0,333.5C1435.4,335.2 1438.7,336.3 1442.1,338.0C1445.5,339.6 1448.8,341.4 1452.2,343.3C1455.6,345.1 1458.9,347.0 1462.3,348.9C1465.6,350.8 1469.0,352.4 1472.4,354.5C1475.7,356.5 1479.1,358.8 1482.5,361.3C1485.8,363.8 1489.2,366.7 1492.6,369.5C1495.9,372.3 1499.3,375.1 1502.7,378.2C1506.0,381.2 1509.4,384.7 1512.8,387.9C1516.1,391.2 1519.5,394.6 1522.8,397.6C1526.2,400.5 1529.6,403.1 1532.9,405.5C1536.3,408.0 1539.7,410.2 1543.0,412.2C1546.4,414.2 1549.8,416.0 1553.1,417.5C1556.5,419.0 1559.9,420.4 1563.2,421.1C1566.6,421.8 1570.0,421.6 1573.3,421.5C1576.7,421.4 1580.0,421.0 1583.4,420.7C1586.8,420.4 1590.1,420.0 1593.5,419.8C1596.9,419.6 1600.2,419.8 1603.6,419.6C1607.0,419.4 1610.3,418.9 1613.7,418.3C1617.1,417.7 1620.4,416.6 1623.8,416.0C1627.2,415.4 1630.5,414.8 1633.9,414.6C1637.2,414.4 1640.6,414.8 1644.0,414.7C1647.3,414.7 1650.7,414.7 1654.1,414.3C1657.4,413.9 1660.8,413.1 1664.2,412.5C1667.5,411.9 1670.9,411.4 1674.3,410.7C1677.6,410.1 1681.0,409.4 1684.4,408.7C1687.7,407.9 1691.1,407.3 1694.4,406.2C1697.8,405.0 1701.2,403.8 1704.5,401.8C1707.9,399.8 1711.3,396.5 1714.6,394.0C1718.0,391.6 1721.4,389.2 1724.7,387.2C1728.1,385.3 1731.5,384.0 1734.8,382.4C1738.2,380.7 1741.6,379.2 1744.9,377.4C1748.3,375.6 1751.6,373.4 1755.0,371.7C1758.4,370.0 1761.7,368.3 1765.1,367.1C1768.5,365.9 1771.8,365.2 1775.2,364.3C1778.6,363.5 1781.9,362.6 1785.3,362.2C1788.7,361.8 1792.0,361.8 1795.4,361.9C1798.7,362.0 1802.1,362.5 1805.5,362.8C1808.8,363.1 1812.2,363.3 1815.6,363.7C1818.9,364.1 1822.3,364.7 1825.7,365.2C1829.0,365.8 1832.4,366.4 1835.8,366.8C1839.1,367.3 1844.2,367.8 1845.9,368.0" fill="none" stroke="#33cccc" stroke-width="3.3" stroke-linejoin="round" stroke-linecap="round"/>
<line x1="1249.5" y1="206.4" x2="1865.9" y2="373" stroke="#4169e1" stroke-width="1.3"/>
<line x1="1522.7" y1="553.1" x2="1865.9" y2="428.1" stroke="#ff1a1a" stroke-width="1.3"/>
<polygon points="1244.1,188.8 1255,188.8 1249.5,199.7" fill="#008000"/>
<polygon points="1628.2,291.9 1638.9,291.9 1633.5,302.3" fill="#008000"/>
<polygon points="1517.5,568.9 1527.7,568.9 1522.6,558.8" fill="#ff0000"/>
<polygon points="1801,465.4 1811.4,465.4 1806.2,455.8" fill="#ff0000"/>
</g>
<g clip-path="url(#cr)">
<polygon points="-1.3,1155.4 -1.3,1212.3 8.7,1232.5 18.8,1240.0 28.9,1247.0 39.0,1256.7 49.1,1227.0 59.2,1227.0 69.3,1195.1 79.4,1189.5 89.5,1190.9 99.6,1181.7 109.7,1180.9 119.8,1199.8 129.9,1176.7 140.0,1193.7 150.1,1189.2 160.2,1203.1 170.3,1187.3 180.3,1185.1 190.4,1221.4 200.5,1227.5 210.6,1220.6 220.7,1190.1 230.8,1167.3 240.9,1149.8 251.0,1152.1 261.1,1144.3 271.2,1143.7 281.3,1170.6 291.4,1156.8 301.5,1152.6 311.6,1156.8 321.7,1169.3 331.8,1171.5 341.8,1157.3 351.9,1153.4 362.0,1151.2 372.1,1176.3 382.2,1200.9 392.3,1198.1 402.4,1200.3 412.5,1190.8 422.6,1229.2 432.7,1199.9 442.8,1205.4 452.9,1211.3 463.0,1217.6 473.1,1212.9 483.2,1181.2 493.3,1153.4 503.4,1249.5 513.4,1246.3 523.5,1284.7 533.6,1269.3 543.7,1255.3 553.8,1213.4 563.9,1194.4 574.0,1194.3 584.1,1175.0 594.2,1166.1 604.3,1165.9 614.4,1160.2 624.5,1154.5 634.6,1142.0 644.7,1188.2 654.8,1184.9 664.9,1172.2 675.0,1180.9 685.0,1186.2 695.1,1159.8 705.2,1170.7 715.3,1199.0 725.4,1211.3 735.5,1214.8 745.6,1218.6 755.7,1210.4 765.8,1195.3 775.9,1218.7 786.0,1230.8 796.1,1214.2 806.2,1221.3 816.3,1255.5 826.4,1217.6 836.5,1232.6 846.5,1220.7 856.6,1230.4 866.7,1222.5 876.8,1209.5 886.9,1200.5 897.0,1197.2 907.1,1192.9 917.2,1167.7 927.3,1168.3 937.4,1161.7 947.5,1185.3 957.6,1203.4 967.7,1195.3 977.8,1207.5 987.9,1207.8 998.0,1184.0 1008.1,1197.1 1018.1,1187.9 1028.2,1181.2 1038.3,1203.8 1048.4,1201.3 1058.5,1195.9 1068.6,1219.1 1078.7,1197.9 1088.8,1183.2 1098.9,1207.1 1109.0,1210.7 1119.1,1204.2 1129.2,1262.2 1139.3,1263.1 1149.4,1244.3 1159.5,1250.9 1169.6,1258.0 1179.7,1218.8 1189.7,1197.2 1199.8,1183.8 1209.9,1171.7 1220.0,1176.1 1230.1,1172.3 1240.2,1170.8 1250.3,1168.0 1260.4,1210.3 1270.5,1211.1 1280.6,1210.2 1290.7,1211.3 1300.8,1229.0 1310.9,1240.8 1321.0,1242.1 1331.1,1245.0 1341.2,1284.2 1351.2,1288.2 1361.3,1307.7 1371.4,1320.3 1381.5,1301.9 1391.6,1293.5 1401.7,1299.3 1411.8,1299.3 1421.9,1253.5 1432.0,1235.6 1442.1,1211.8 1452.2,1248.1 1462.3,1273.4 1472.4,1273.0 1482.5,1296.8 1492.6,1299.0 1502.7,1325.1 1512.8,1334.8 1522.8,1301.7 1532.9,1299.9 1543.0,1292.0 1553.1,1289.2 1563.2,1259.7 1573.3,1224.8 1583.4,1225.2 1593.5,1228.1 1603.6,1232.2 1613.7,1205.4 1623.8,1180.8 1633.9,1205.2 1644.0,1195.9 1654.1,1194.3 1664.2,1220.1 1674.3,1228.6 1684.4,1243.1 1694.4,1258.0 1704.5,1216.7 1714.6,1220.9 1724.7,1244.3 1734.8,1235.2 1744.9,1227.6 1755.0,1224.4 1765.1,1222.1 1775.2,1226.9 1785.3,1209.5 1795.4,1274.7 1805.5,1252.3 1815.6,1254.8 1825.7,1226.8 1835.8,1233.6 1845.9,1226.1 1845.9,1155.4" fill="#b0b0b0" clip-path="url(#ob)"/>
<polygon points="-1.3,1325 -1.3,1212.3 8.7,1232.5 18.8,1240.0 28.9,1247.0 39.0,1256.7 49.1,1227.0 59.2,1227.0 69.3,1195.1 79.4,1189.5 89.5,1190.9 99.6,1181.7 109.7,1180.9 119.8,1199.8 129.9,1176.7 140.0,1193.7 150.1,1189.2 160.2,1203.1 170.3,1187.3 180.3,1185.1 190.4,1221.4 200.5,1227.5 210.6,1220.6 220.7,1190.1 230.8,1167.3 240.9,1149.8 251.0,1152.1 261.1,1144.3 271.2,1143.7 281.3,1170.6 291.4,1156.8 301.5,1152.6 311.6,1156.8 321.7,1169.3 331.8,1171.5 341.8,1157.3 351.9,1153.4 362.0,1151.2 372.1,1176.3 382.2,1200.9 392.3,1198.1 402.4,1200.3 412.5,1190.8 422.6,1229.2 432.7,1199.9 442.8,1205.4 452.9,1211.3 463.0,1217.6 473.1,1212.9 483.2,1181.2 493.3,1153.4 503.4,1249.5 513.4,1246.3 523.5,1284.7 533.6,1269.3 543.7,1255.3 553.8,1213.4 563.9,1194.4 574.0,1194.3 584.1,1175.0 594.2,1166.1 604.3,1165.9 614.4,1160.2 624.5,1154.5 634.6,1142.0 644.7,1188.2 654.8,1184.9 664.9,1172.2 675.0,1180.9 685.0,1186.2 695.1,1159.8 705.2,1170.7 715.3,1199.0 725.4,1211.3 735.5,1214.8 745.6,1218.6 755.7,1210.4 765.8,1195.3 775.9,1218.7 786.0,1230.8 796.1,1214.2 806.2,1221.3 816.3,1255.5 826.4,1217.6 836.5,1232.6 846.5,1220.7 856.6,1230.4 866.7,1222.5 876.8,1209.5 886.9,1200.5 897.0,1197.2 907.1,1192.9 917.2,1167.7 927.3,1168.3 937.4,1161.7 947.5,1185.3 957.6,1203.4 967.7,1195.3 977.8,1207.5 987.9,1207.8 998.0,1184.0 1008.1,1197.1 1018.1,1187.9 1028.2,1181.2 1038.3,1203.8 1048.4,1201.3 1058.5,1195.9 1068.6,1219.1 1078.7,1197.9 1088.8,1183.2 1098.9,1207.1 1109.0,1210.7 1119.1,1204.2 1129.2,1262.2 1139.3,1263.1 1149.4,1244.3 1159.5,1250.9 1169.6,1258.0 1179.7,1218.8 1189.7,1197.2 1199.8,1183.8 1209.9,1171.7 1220.0,1176.1 1230.1,1172.3 1240.2,1170.8 1250.3,1168.0 1260.4,1210.3 1270.5,1211.1 1280.6,1210.2 1290.7,1211.3 1300.8,1229.0 1310.9,1240.8 1321.0,1242.1 1331.1,1245.0 1341.2,1284.2 1351.2,1288.2 1361.3,1307.7 1371.4,1320.3 1381.5,1301.9 1391.6,1293.5 1401.7,1299.3 1411.8,1299.3 1421.9,1253.5 1432.0,1235.6 1442.1,1211.8 1452.2,1248.1 1462.3,1273.4 1472.4,1273.0 1482.5,1296.8 1492.6,1299.0 1502.7,1325.1 1512.8,1334.8 1522.8,1301.7 1532.9,1299.9 1543.0,1292.0 1553.1,1289.2 1563.2,1259.7 1573.3,1224.8 1583.4,1225.2 1593.5,1228.1 1603.6,1232.2 1613.7,1205.4 1623.8,1180.8 1633.9,1205.2 1644.0,1195.9 1654.1,1194.3 1664.2,1220.1 1674.3,1228.6 1684.4,1243.1 1694.4,1258.0 1704.5,1216.7 1714.6,1220.9 1724.7,1244.3 1734.8,1235.2 1744.9,1227.6 1755.0,1224.4 1765.1,1222.1 1775.2,1226.9 1785.3,1209.5 1795.4,1274.7 1805.5,1252.3 1815.6,1254.8 1825.7,1226.8 1835.8,1233.6 1845.9,1226.1 1845.9,1325" fill="#b0b0b0" clip-path="url(#os)"/>
<polyline points="-1.3,1212.3 8.7,1232.5 18.8,1240.0 28.9,1247.0 39.0,1256.7 49.1,1227.0 59.2,1227.0 69.3,1195.1 79.4,1189.5 89.5,1190.9 99.6,1181.7 109.7,1180.9 119.8,1199.8 129.9,1176.7 140.0,1193.7 150.1,1189.2 160.2,1203.1 170.3,1187.3 180.3,1185.1 190.4,1221.4 200.5,1227.5 210.6,1220.6 220.7,1190.1 230.8,1167.3 240.9,1149.8 251.0,1152.1 261.1,1144.3 271.2,1143.7 281.3,1170.6 291.4,1156.8 301.5,1152.6 311.6,1156.8 321.7,1169.3 331.8,1171.5 341.8,1157.3 351.9,1153.4 362.0,1151.2 372.1,1176.3 382.2,1200.9 392.3,1198.1 402.4,1200.3 412.5,1190.8 422.6,1229.2 432.7,1199.9 442.8,1205.4 452.9,1211.3 463.0,1217.6 473.1,1212.9 483.2,1181.2 493.3,1153.4 503.4,1249.5 513.4,1246.3 523.5,1284.7 533.6,1269.3 543.7,1255.3 553.8,1213.4 563.9,1194.4 574.0,1194.3 584.1,1175.0 594.2,1166.1 604.3,1165.9 614.4,1160.2 624.5,1154.5 634.6,1142.0 644.7,1188.2 654.8,1184.9 664.9,1172.2 675.0,1180.9 685.0,1186.2 695.1,1159.8 705.2,1170.7 715.3,1199.0 725.4,1211.3 735.5,1214.8 745.6,1218.6 755.7,1210.4 765.8,1195.3 775.9,1218.7 786.0,1230.8 796.1,1214.2 806.2,1221.3 816.3,1255.5 826.4,1217.6 836.5,1232.6 846.5,1220.7 856.6,1230.4 866.7,1222.5 876.8,1209.5 886.9,1200.5 897.0,1197.2 907.1,1192.9 917.2,1167.7 927.3,1168.3 937.4,1161.7 947.5,1185.3 957.6,1203.4 967.7,1195.3 977.8,1207.5 987.9,1207.8 998.0,1184.0 1008.1,1197.1 1018.1,1187.9 1028.2,1181.2 1038.3,1203.8 1048.4,1201.3 1058.5,1195.9 1068.6,1219.1 1078.7,1197.9 1088.8,1183.2 1098.9,1207.1 1109.0,1210.7 1119.1,1204.2 1129.2,1262.2 1139.3,1263.1 1149.4,1244.3 1159.5,1250.9 1169.6,1258.0 1179.7,1218.8 1189.7,1197.2 1199.8,1183.8 1209.9,1171.7 1220.0,1176.1 1230.1,1172.3 1240.2,1170.8 1250.3,1168.0 1260.4,1210.3 1270.5,1211.1 1280.6,1210.2 1290.7,1211.3 1300.8,1229.0 1310.9,1240.8 1321.0,1242.1 1331.1,1245.0 1341.2,1284.2 1351.2,1288.2 1361.3,1307.7 1371.4,1320.3 1381.5,1301.9 1391.6,1293.5 1401.7,1299.3 1411.8,1299.3 1421.9,1253.5 1432.0,1235.6 1442.1,1211.8 1452.2,1248.1 1462.3,1273.4 1472.4,1273.0 1482.5,1296.8 1492.6,1299.0 1502.7,1325.1 1512.8,1334.8 1522.8,1301.7 1532.9,1299.9 1543.0,1292.0 1553.1,1289.2 1563.2,1259.7 1573.3,1224.8 1583.4,1225.2 1593.5,1228.1 1603.6,1232.2 1613.7,1205.4 1623.8,1180.8 1633.9,1205.2 1644.0,1195.9 1654.1,1194.3 1664.2,1220.1 1674.3,1228.6 1684.4,1243.1 1694.4,1258.0 1704.5,1216.7 1714.6,1220.9 1724.7,1244.3 1734.8,1235.2 1744.9,1227.6 1755.0,1224.4 1765.1,1222.1 1775.2,1226.9 1785.3,1209.5 1795.4,1274.7 1805.5,1252.3 1815.6,1254.8 1825.7,1226.8 1835.8,1233.6 1845.9,1226.1" fill="none" stroke="#000" stroke-width="1.5" stroke-linejoin="miter"/>
</g>
<rect x="0" y="1019" width="384" height="36" fill="#fff" fill-opacity="0.9"/>
<text x="10" y="1043" font-size="15.5" fill="#333"><tspan font-weight="bold">VWAP</tspan> 20 1 2 3</text>
<text x="186" y="1043" font-size="15.5" fill="#333"><tspan font-weight="bold">AUTO TREND</tspan> 4 3 2</text>
<g transform="translate(133.2,1038.9)" fill="#9a9a9a"><rect x="-2" y="-8.5" width="4" height="5" transform="rotate(0)"/><rect x="-2" y="-8.5" width="4" height="5" transform="rotate(45)"/><rect x="-2" y="-8.5" width="4" height="5" transform="rotate(90)"/><rect x="-2" y="-8.5" width="4" height="5" transform="rotate(135)"/><rect x="-2" y="-8.5" width="4" height="5" transform="rotate(180)"/><rect x="-2" y="-8.5" width="4" height="5" transform="rotate(225)"/><rect x="-2" y="-8.5" width="4" height="5" transform="rotate(270)"/><rect x="-2" y="-8.5" width="4" height="5" transform="rotate(315)"/><circle r="6.2"/><circle r="2.6" fill="#fff"/></g><path d="M153.10000000000002,1032.7L165.5,1045.1000000000001M165.5,1032.7L153.10000000000002,1045.1000000000001" stroke="#9a9a9a" stroke-width="3.3"/><g transform="translate(342,1038.9)" fill="#9a9a9a"><rect x="-2" y="-8.5" width="4" height="5" transform="rotate(0)"/><rect x="-2" y="-8.5" width="4" height="5" transform="rotate(45)"/><rect x="-2" y="-8.5" width="4" height="5" transform="rotate(90)"/><rect x="-2" y="-8.5" width="4" height="5" transform="rotate(135)"/><rect x="-2" y="-8.5" width="4" height="5" transform="rotate(180)"/><rect x="-2" y="-8.5" width="4" height="5" transform="rotate(225)"/><rect x="-2" y="-8.5" width="4" height="5" transform="rotate(270)"/><rect x="-2" y="-8.5" width="4" height="5" transform="rotate(315)"/><circle r="6.2"/><circle r="2.6" fill="#fff"/></g><path d="M361.1,1032.7L373.5,1045.1000000000001M373.5,1032.7L361.1,1045.1000000000001" stroke="#9a9a9a" stroke-width="3.3"/>
<rect x="0" y="1142" width="114" height="36" fill="#fff" fill-opacity="0.9"/>
<text x="10" y="1166" font-size="15.5" fill="#333"><tspan font-weight="bold">RSI</tspan> 14</text>
<g transform="translate(72,1161.8)" fill="#9a9a9a"><rect x="-2" y="-8.5" width="4" height="5" transform="rotate(0)"/><rect x="-2" y="-8.5" width="4" height="5" transform="rotate(45)"/><rect x="-2" y="-8.5" width="4" height="5" transform="rotate(90)"/><rect x="-2" y="-8.5" width="4" height="5" transform="rotate(135)"/><rect x="-2" y="-8.5" width="4" height="5" transform="rotate(180)"/><rect x="-2" y="-8.5" width="4" height="5" transform="rotate(225)"/><rect x="-2" y="-8.5" width="4" height="5" transform="rotate(270)"/><rect x="-2" y="-8.5" width="4" height="5" transform="rotate(315)"/><circle r="6.2"/><circle r="2.6" fill="#fff"/></g><path d="M91.8,1155.6L104.2,1168.0M104.2,1155.6L91.8,1168.0" stroke="#9a9a9a" stroke-width="3.3"/>
<path d="M131,1170.6V1153.5M123.5,1160.5L131,1153L138.5,1160.5" fill="none" stroke="#777" stroke-width="1.5"/>
<line x1="2085.2" y1="111" x2="2085.2" y2="1351" stroke="#808080" stroke-width="1.6"/>
<line x1="0" y1="1350.3" x2="2086" y2="1350.3" stroke="#6f6f6f" stroke-width="1.8"/>
<line x1="2085" y1="227.2" x2="2091" y2="227.2" stroke="#808080" stroke-width="1.4"/>
<text x="2095.6" y="231.9" font-size="16" fill="#555" textLength="57.3" lengthAdjust="spacingAndGlyphs">1.37500</text>
<line x1="2085" y1="361.2" x2="2091" y2="361.2" stroke="#808080" stroke-width="1.4"/>
<line x1="2085" y1="495.3" x2="2091" y2="495.3" stroke="#808080" stroke-width="1.4"/>
<text x="2095.6" y="500.0" font-size="16" fill="#555" textLength="57.3" lengthAdjust="spacingAndGlyphs">1.32500</text>
<line x1="2085" y1="629.3" x2="2091" y2="629.3" stroke="#808080" stroke-width="1.4"/>
<text x="2095.6" y="634.0" font-size="16" fill="#555" textLength="57.3" lengthAdjust="spacingAndGlyphs">1.30000</text>
<line x1="2085" y1="763.4" x2="2091" y2="763.4" stroke="#808080" stroke-width="1.4"/>
<text x="2095.6" y="768.1" font-size="16" fill="#555" textLength="57.3" lengthAdjust="spacingAndGlyphs">1.27500</text>
<line x1="2085" y1="897.5" x2="2091" y2="897.5" stroke="#808080" stroke-width="1.4"/>
<text x="2095.6" y="902.2" font-size="16" fill="#555" textLength="57.3" lengthAdjust="spacingAndGlyphs">1.25000</text>
<line x1="2085" y1="1031.5" x2="2091" y2="1031.5" stroke="#808080" stroke-width="1.4"/>
<text x="2095.6" y="1036.2" font-size="16" fill="#555" textLength="57.3" lengthAdjust="spacingAndGlyphs">1.22500</text>
<line x1="2085" y1="1155.4" x2="2091" y2="1155.4" stroke="#808080" stroke-width="1.4"/>
<text x="2094.6" y="1160.6" font-size="16" fill="#555" textLength="32.5" lengthAdjust="spacingAndGlyphs">70.0</text>
<line x1="2085" y1="1197.8" x2="2091" y2="1197.8" stroke="#808080" stroke-width="1.4"/>
<text x="2094.6" y="1203.0" font-size="16" fill="#555" textLength="32.5" lengthAdjust="spacingAndGlyphs">60.0</text>
<line x1="2085" y1="1240.2" x2="2091" y2="1240.2" stroke="#808080" stroke-width="1.4"/>
<text x="2094.6" y="1245.4" font-size="16" fill="#555" textLength="32.5" lengthAdjust="spacingAndGlyphs">50.0</text>
<line x1="2085" y1="1282.6" x2="2091" y2="1282.6" stroke="#808080" stroke-width="1.4"/>
<text x="2094.6" y="1287.8" font-size="16" fill="#555" textLength="32.5" lengthAdjust="spacingAndGlyphs">40.0</text>
<line x1="2085" y1="1325.0" x2="2091" y2="1325.0" stroke="#808080" stroke-width="1.4"/>
<text x="2094.6" y="1330.2" font-size="16" fill="#555" textLength="32.5" lengthAdjust="spacingAndGlyphs">30.0</text>
<text x="2094.2" y="1160.1" font-size="16" fill="#555">70</text>
<line x1="205.7" y1="1350" x2="205.7" y2="1358.5" stroke="#808080" stroke-width="1.4"/>
<text x="205.7" y="1376" font-size="17" fill="#444" text-anchor="middle" clip-path="url(#ax)">Mar</text>
<line x1="468.0" y1="1350" x2="468.0" y2="1358.5" stroke="#808080" stroke-width="1.4"/>
<text x="468.0" y="1376" font-size="17" fill="#444" text-anchor="middle" clip-path="url(#ax)">Apr</text>
<line x1="720.0" y1="1350" x2="720.0" y2="1358.5" stroke="#808080" stroke-width="1.4"/>
<text x="720.0" y="1376" font-size="17" fill="#444" text-anchor="middle" clip-path="url(#ax)">May</text>
<line x1="982.7" y1="1350" x2="982.7" y2="1358.5" stroke="#808080" stroke-width="1.4"/>
<text x="982.7" y="1376" font-size="17" fill="#444" text-anchor="middle" clip-path="url(#ax)">Jun</text>
<line x1="1245.5" y1="1350" x2="1245.5" y2="1358.5" stroke="#808080" stroke-width="1.4"/>
<text x="1245.5" y="1376" font-size="17" fill="#444" text-anchor="middle" clip-path="url(#ax)">Jul</text>
<line x1="1518.5" y1="1350" x2="1518.5" y2="1358.5" stroke="#808080" stroke-width="1.4"/>
<text x="1518.5" y="1376" font-size="17" fill="#444" text-anchor="middle" clip-path="url(#ax)">Aug</text>
<line x1="1780.8" y1="1350" x2="1780.8" y2="1358.5" stroke="#808080" stroke-width="1.4"/>
<text x="1780.8" y="1376" font-size="17" fill="#444" text-anchor="middle" clip-path="url(#ax)">Sept</text>
<line x1="2073.1" y1="1350" x2="2073.1" y2="1358.5" stroke="#808080" stroke-width="1.4"/>
<text x="2073.1" y="1376" font-size="17" fill="#444" text-anchor="middle" clip-path="url(#ax)">Oct</text>
<path d="M2072.5,322.4 L2084.9,310.5 H2154.8 Q2157.8,310.5 2157.8,313.5 V331.3 Q2157.8,334.3 2154.8,334.3 H2084.9 Z" fill="#fd8522"/>
<text x="2095.6" y="328.0" font-size="16" fill="#111">1.35725</text>
<path d="M2072.5,416.0 L2084.9,404.1 H2154.8 Q2157.8,404.1 2157.8,407.1 V424.90000000000003 Q2157.8,427.90000000000003 2154.8,427.90000000000003 H2084.9 Z" fill="#fd8522"/>
<text x="2095.6" y="421.6" font-size="16" fill="#111">1.33984</text>
<path d="M2072.5,369.3 L2084.9,357.40000000000003 H2154.8 Q2157.8,357.40000000000003 2157.8,360.40000000000003 V378.20000000000005 Q2157.8,381.20000000000005 2154.8,381.20000000000005 H2084.9 Z" fill="#3cc8c8"/>
<text x="2095.6" y="374.9" font-size="16" fill="#111">1.34855</text>
<path d="M2072.5,356.0 L2084.9,344.1 H2163.8 Q2166.8,344.1 2166.8,347.1 V364.90000000000003 Q2166.8,367.90000000000003 2163.8,367.90000000000003 H2084.9 Z" fill="#625da8"/>
<text x="2095.6" y="361.6" font-size="16" fill="#fff">1.350965</text>
<path d="M2073,1226.1 L2084,1214.8 H2128 Q2130.5,1214.8 2130.5,1217.3 V1234.9 Q2130.5,1237.4 2128,1237.4 H2084 Z" fill="#000"/>
<text x="2094" y="1231.9" font-size="16" fill="#fff">53.3</text>
</svg></body></html>
